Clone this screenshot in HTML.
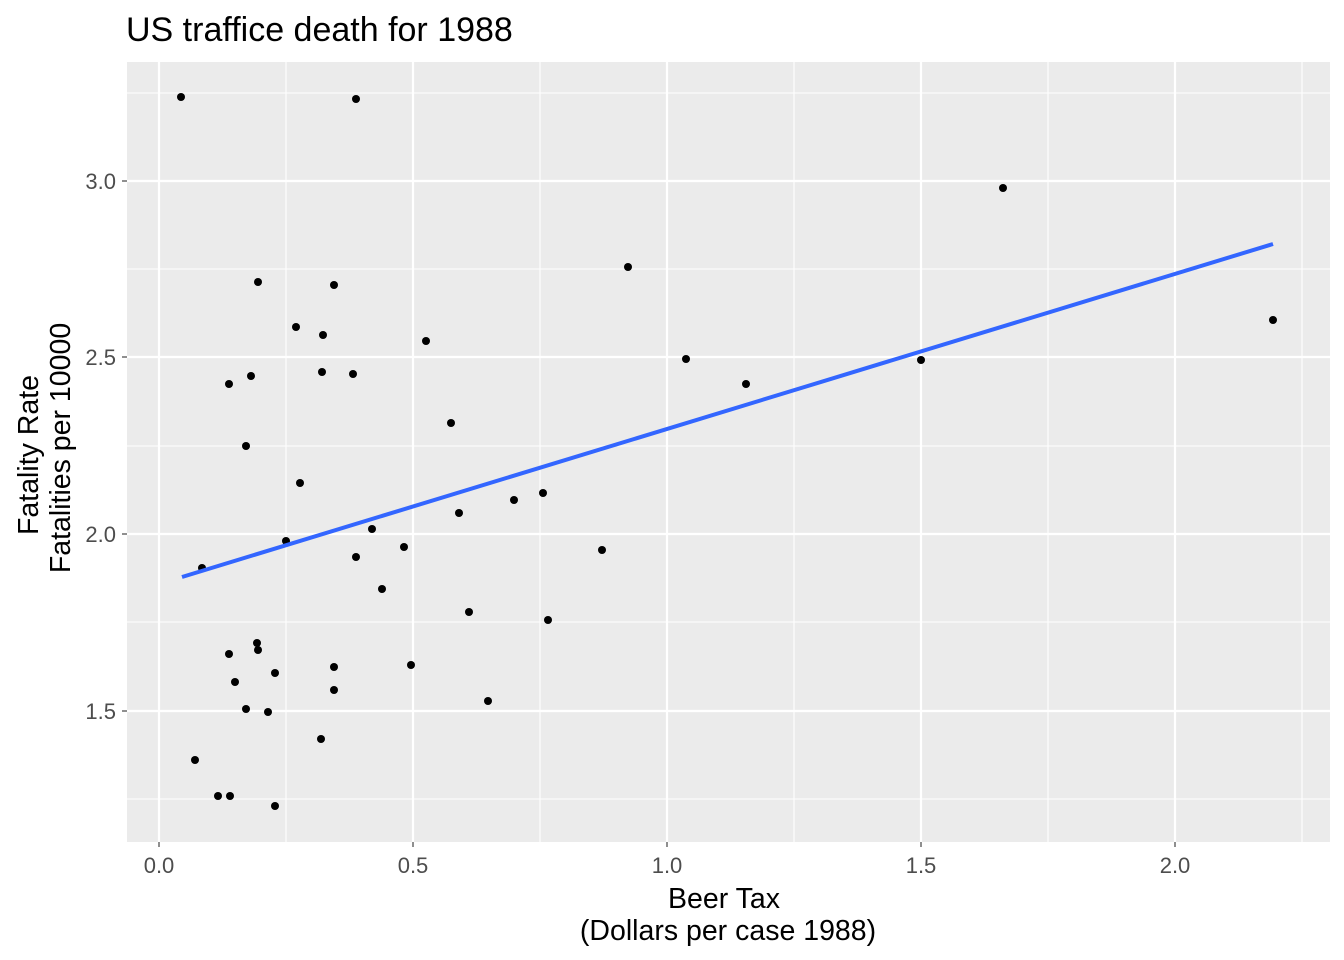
<!DOCTYPE html>
<html><head><style>body{margin:0;background:#fff}svg{display:block}</style></head><body>
<svg width="1344" height="960" xmlns="http://www.w3.org/2000/svg" font-family="Liberation Sans, sans-serif">
<rect width="1344" height="960" fill="#fff"/>
<rect x="127" y="62" width="1203" height="780" fill="#ebebeb"/>
<g stroke="#fff" stroke-width="1.1">
<line x1="127" x2="1330" y1="93" y2="93"/><line x1="127" x2="1330" y1="269" y2="269"/><line x1="127" x2="1330" y1="446" y2="446"/><line x1="127" x2="1330" y1="622" y2="622"/><line x1="127" x2="1330" y1="799" y2="799"/>
<line y1="62" y2="842" x1="286" x2="286"/><line y1="62" y2="842" x1="540" x2="540"/><line y1="62" y2="842" x1="794" x2="794"/><line y1="62" y2="842" x1="1048" x2="1048"/><line y1="62" y2="842" x1="1302" x2="1302"/>
</g>
<g stroke="#fff" stroke-width="2.2">
<line x1="127" x2="1330" y1="181" y2="181"/><line x1="127" x2="1330" y1="357" y2="357"/><line x1="127" x2="1330" y1="534" y2="534"/><line x1="127" x2="1330" y1="711" y2="711"/>
<line y1="62" y2="842" x1="159" x2="159"/><line y1="62" y2="842" x1="413" x2="413"/><line y1="62" y2="842" x1="667" x2="667"/><line y1="62" y2="842" x1="921" x2="921"/><line y1="62" y2="842" x1="1175" x2="1175"/>
</g>
<g fill="#000">
<circle cx="181" cy="97" r="4"/><circle cx="356" cy="99" r="4"/><circle cx="1003" cy="188" r="4"/><circle cx="628" cy="267" r="4"/><circle cx="258" cy="282" r="4"/><circle cx="334" cy="285" r="4"/><circle cx="296" cy="327" r="4"/><circle cx="323" cy="335" r="4"/><circle cx="426" cy="341" r="4"/><circle cx="1273" cy="320" r="4"/><circle cx="686" cy="359" r="4"/><circle cx="921" cy="360" r="4"/><circle cx="746" cy="384" r="4"/><circle cx="229" cy="384" r="4"/><circle cx="251" cy="376" r="4"/><circle cx="322" cy="372" r="4"/><circle cx="353" cy="374" r="4"/><circle cx="451" cy="423" r="4"/><circle cx="246" cy="446" r="4"/><circle cx="300" cy="483" r="4"/><circle cx="543" cy="493" r="4"/><circle cx="514" cy="500" r="4"/><circle cx="459" cy="513" r="4"/><circle cx="372" cy="529" r="4"/><circle cx="286" cy="541" r="4"/><circle cx="404" cy="547" r="4"/><circle cx="356" cy="557" r="4"/><circle cx="202" cy="568" r="4"/><circle cx="602" cy="550" r="4"/><circle cx="382" cy="589" r="4"/><circle cx="469" cy="612" r="4"/><circle cx="548" cy="620" r="4"/><circle cx="257" cy="643" r="4"/><circle cx="258" cy="650" r="4"/><circle cx="229" cy="654" r="4"/><circle cx="334" cy="667" r="4"/><circle cx="411" cy="665" r="4"/><circle cx="275" cy="673" r="4"/><circle cx="235" cy="682" r="4"/><circle cx="334" cy="690" r="4"/><circle cx="246" cy="709" r="4"/><circle cx="268" cy="712" r="4"/><circle cx="488" cy="701" r="4"/><circle cx="321" cy="739" r="4"/><circle cx="195" cy="760" r="4"/><circle cx="218" cy="796" r="4"/><circle cx="230" cy="796" r="4"/><circle cx="275" cy="806" r="4"/>
</g>
<line x1="182" y1="577" x2="1273" y2="244" stroke="#3366ff" stroke-width="4"/>
<g stroke="#333" stroke-width="1.1">
<line x1="122" x2="127" y1="181" y2="181"/><line x1="122" x2="127" y1="357" y2="357"/><line x1="122" x2="127" y1="534" y2="534"/><line x1="122" x2="127" y1="711" y2="711"/>
<line y1="842" y2="847" x1="159" x2="159"/><line y1="842" y2="847" x1="413" x2="413"/><line y1="842" y2="847" x1="667" x2="667"/><line y1="842" y2="847" x1="921" x2="921"/><line y1="842" y2="847" x1="1175" x2="1175"/>
</g>
<g fill="#4d4d4d" font-size="22" text-anchor="end">
<text x="116" y="189">3.0</text><text x="116" y="365">2.5</text><text x="116" y="542">2.0</text><text x="116" y="719">1.5</text>
</g>
<g fill="#4d4d4d" font-size="22" text-anchor="middle">
<text x="159" y="873">0.0</text><text x="413" y="873">0.5</text><text x="667" y="873">1.0</text><text x="921" y="873">1.5</text><text x="1175" y="873">2.0</text>
</g>
<g font-size="28.5" text-anchor="middle" fill="#000">
<text x="724" y="908">Beer Tax</text><text x="728" y="940">(Dollars per case 1988)</text>
<text transform="translate(38,455) rotate(-90)">Fatality Rate</text>
<text transform="translate(70,448) rotate(-90)">Fatalities per 10000</text>
</g>
<text x="126" y="41" font-size="34" fill="#000">US traffice death for 1988</text>
</svg>
</body></html>
